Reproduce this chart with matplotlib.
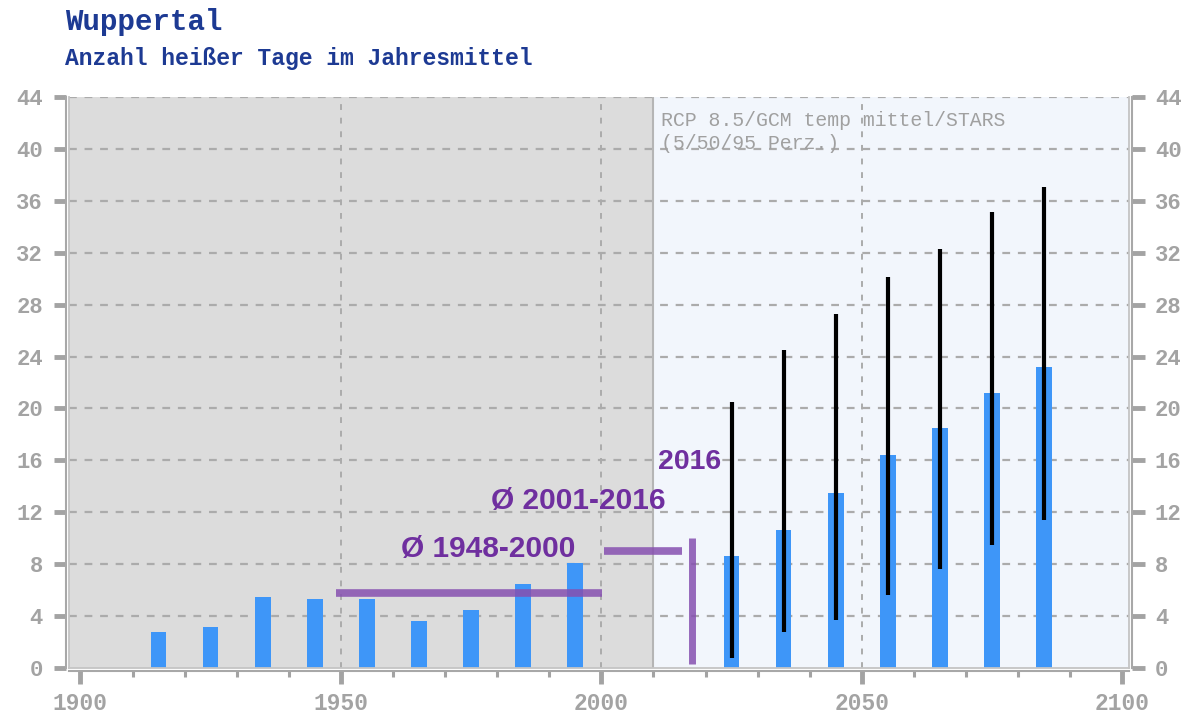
import numpy as np
import matplotlib.pyplot as plt

# observed decade means (hot days per year)
hist_years = [1915, 1925, 1935, 1945, 1955, 1965, 1975, 1985, 1995]
hist_days = [2.8, 3.15, 5.45, 5.35, 5.35, 3.6, 4.5, 6.45, 8.1]

# RCP 8.5 projection: median with 5th / 95th percentile range
proj_years = [2025, 2035, 2045, 2055, 2065, 2075, 2085]
proj_p50 = [8.65, 10.6, 13.5, 16.45, 18.5, 21.2, 23.2]
proj_p5 = [0.8, 2.8, 3.7, 5.6, 7.6, 9.5, 11.4]
proj_p95 = [20.5, 24.5, 27.3, 30.1, 32.3, 35.1, 37.1]

# period means and the single year 2016
mean_periods = [(1949, 2000.2, 5.8), (2000.5, 2015.5, 9.0)]
year_2016_x = 2017.4
year_2016_value = 10.0

x_left, x_right = 1897.8, 2101.3
split_year = 2010

mono = 'Liberation Mono'
tick_gray = '#a3a3a3'
grid_gray = '#ababab'
purple_text = '#6f2f9f'
purple_line = '#8650b0'

fig = plt.figure(figsize=(11.92, 7.17), dpi=100)
ax = fig.add_axes([69 / 1192, 1 - 668 / 717, 1060 / 1192, 571 / 717])

# background: observed period grey, projection period pale blue
ax.axvspan(x_left, split_year, color='#dcdcdc', zorder=0, lw=0)
ax.axvspan(split_year, x_right, color='#f2f6fc', zorder=0, lw=0)
ax.axvline(split_year, color='#b5b5b5', lw=1.5, zorder=0.6)

# dashed grid
for y in range(4, 45, 4):
    ax.axhline(y, color=grid_gray, lw=1.6, dashes=(3.5, 3.5), zorder=0.5)
for x in (1950, 2000, 2050):
    ax.axvline(x, color=grid_gray, lw=1.4, dashes=(3, 4), zorder=0.5)

bar_color = '#3e96f8'
ax.bar(hist_years, hist_days, width=3.0, color=bar_color, zorder=2)
ax.bar(proj_years, proj_p50, width=3.0, color=bar_color, zorder=2)
ax.vlines(proj_years, proj_p5, proj_p95, color='black', lw=3.0, zorder=3)

# period means and 2016
for x0, x1, m in mean_periods:
    ax.hlines(m, x0, x1, color=purple_line, lw=5.5, alpha=0.85, zorder=4)
ax.vlines(year_2016_x, 0.3, year_2016_value, color=purple_line, lw=5.0, alpha=0.85, zorder=4)

lab = dict(color=purple_text, fontsize=21.5, fontweight='bold', family='Liberation Sans',
           ha='center', va='center', zorder=5)
ax.text(1978.2, 9.2, 'Ø 1948-2000', **lab)
ax.text(1995.6, 12.9, 'Ø 2001-2016', **lab)
ax.text(2016.9, 15.9, '2016', fontsize=20.5,
        **{k: v for k, v in lab.items() if k != 'fontsize'})

ax.text(2011.4, 42.9, 'RCP 8.5/GCM temp mittel/STARS\n(5/50/95 Perz.)',
        family=mono, fontsize=14.3, color='#a0a0a0', ha='left', va='top',
        linespacing=1.25, zorder=5)

ax.set_xlim(x_left, x_right)
ax.set_ylim(0, 44)
ax.set_xticks(np.arange(1900, 2101, 50))
ax.set_xticks(np.arange(1900, 2101, 10), minor=True)
ax.set_yticks(np.arange(0, 45, 4))

for side in ('left', 'right', 'bottom'):
    ax.spines[side].set_position(('outward', 2.2))
    ax.spines[side].set_color('#a8a8a8')
    ax.spines[side].set_linewidth(1.5)
ax.spines['top'].set_visible(False)

# inner edge of the double frame
for xs, ys in (([0, 0], [0, 1]), ([1, 1], [0, 1]), ([0, 1], [0, 0])):
    ax.plot(xs, ys, transform=ax.transAxes, color='#c4c4c4', lw=1.3,
            clip_on=False, zorder=6)

ax.tick_params(axis='y', which='major', left=True, right=True, labelleft=True,
               labelright=True, length=9, width=3.5, color=tick_gray, pad=7.5,
               labelsize=16, labelcolor=tick_gray)
ax.tick_params(axis='x', which='major', length=9, width=3.5, color=tick_gray,
               pad=6, labelsize=16.5, labelcolor=tick_gray)
ax.tick_params(axis='x', which='minor', length=4.5, width=2.2, color=tick_gray)
for t in ax.get_xticklabels() + ax.get_yticklabels():
    t.set_family(mono)
    t.set_fontweight('bold')

fig.text(65 / 1192, 1 - 22 / 717, 'Wuppertal', family=mono, fontweight='bold',
         fontsize=21, color='#1d3a93', ha='left', va='center')
fig.text(65 / 1192, 1 - 58 / 717, 'Anzahl heißer Tage im Jahresmittel', family=mono,
         fontweight='bold', fontsize=16.6, color='#1d3a93', ha='left', va='center')

fig.savefig('out.png', dpi=100)
